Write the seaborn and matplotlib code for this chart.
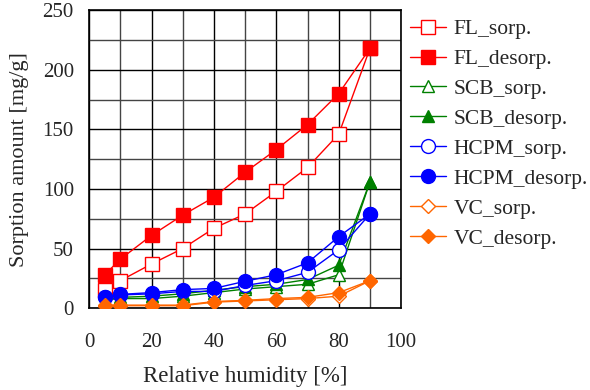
import matplotlib
matplotlib.use("Agg")
import matplotlib.pyplot as plt
from matplotlib.ticker import MultipleLocator
import pandas as pd
import seaborn as sns

rh = [5, 10, 20, 30, 40, 50, 60, 70, 80, 90]

fl_sorp = [15, 23, 37, 50, 67, 79, 98, 118, 146, 218]
fl_desorp = [28, 41, 61, 78, 93, 114, 133, 154, 180, 218]
scb_sorp = [7, 8, 8, 10, 13, 16, 18, 20, 28, 106]
scb_desorp = [7, 9, 10, 12, 15, 18, 20, 24, 36, 106]
hcpm_sorp = [9, 11, 12, 14, 14, 19, 23, 30, 49, 79]
hcpm_desorp = [9.5, 11.5, 13, 15.5, 16.5, 22.5, 28, 38, 60, 79]
vc_sorp = [2, 2, 2, 2, 5, 6, 7, 8, 10, 23]
vc_desorp = [2.5, 2.5, 2.5, 2.5, 5.5, 6.5, 8, 9, 13, 23]

series = [
    ("FL_sorp.", fl_sorp, "#ff0000", "s", False),
    ("FL_desorp.", fl_desorp, "#ff0000", "s", True),
    ("SCB_sorp.", scb_sorp, "#008000", "^", False),
    ("SCB_desorp.", scb_desorp, "#008000", "^", True),
    ("HCPM_sorp.", hcpm_sorp, "#0000ff", "o", False),
    ("HCPM_desorp.", hcpm_desorp, "#0000ff", "o", True),
    ("VC_sorp.", vc_sorp, "#ff6600", "D", False),
    ("VC_desorp.", vc_desorp, "#ff6600", "D", True),
]

sns.set_style("white")
plt.rcParams["font.family"] = ["Liberation Serif", "DejaVu Serif"]

fig = plt.figure(figsize=(5.9, 3.9), dpi=100)
ax = fig.add_axes([0.151, 0.21, 0.529, 0.764])

sizes = {"s": 9.5, "^": 8, "o": 10, "D": 7}
for name, vals, color, marker, filled in series:
    df = pd.DataFrame({"rh": rh, "amount": vals})
    sns.lineplot(data=df, x="rh", y="amount", ax=ax, color=color, lw=1,
                 marker=marker, markersize=sizes[marker],
                 markerfacecolor=color if filled else "white",
                 markeredgecolor=color, markeredgewidth=1,
                 label=name, zorder=3)

ax.set_xlim(0, 100)
ax.set_ylim(0, 250)
ax.xaxis.set_major_locator(MultipleLocator(20))
ax.xaxis.set_minor_locator(MultipleLocator(10))
ax.yaxis.set_major_locator(MultipleLocator(50))
ax.yaxis.set_minor_locator(MultipleLocator(25))
ax.grid(which="major", color="black", lw=1)
ax.grid(which="minor", color="#444444", lw=1)
ax.set_axisbelow(True)
ax.tick_params(which="both", length=0, labelsize=15)
ax.tick_params(axis="x", pad=18)
ax.tick_params(axis="y", pad=11)
for sp in ax.spines.values():
    sp.set_color("black")
    sp.set_linewidth(1.2)

ax.set_xlabel("Relative humidity [%]", fontsize=16.5, labelpad=10)
ax.set_ylabel("Sorption amount [mg/g]", fontsize=16, labelpad=10)

ax.legend(loc="upper left", bbox_to_anchor=(410 / 590, 1 - 19 / 390),
          bbox_transform=fig.transFigure, frameon=False,
          fontsize=15.5, handlelength=1.65, labelspacing=0.46, borderpad=0,
          borderaxespad=0, handletextpad=0.36)

fig.savefig("out.png", dpi=100)
